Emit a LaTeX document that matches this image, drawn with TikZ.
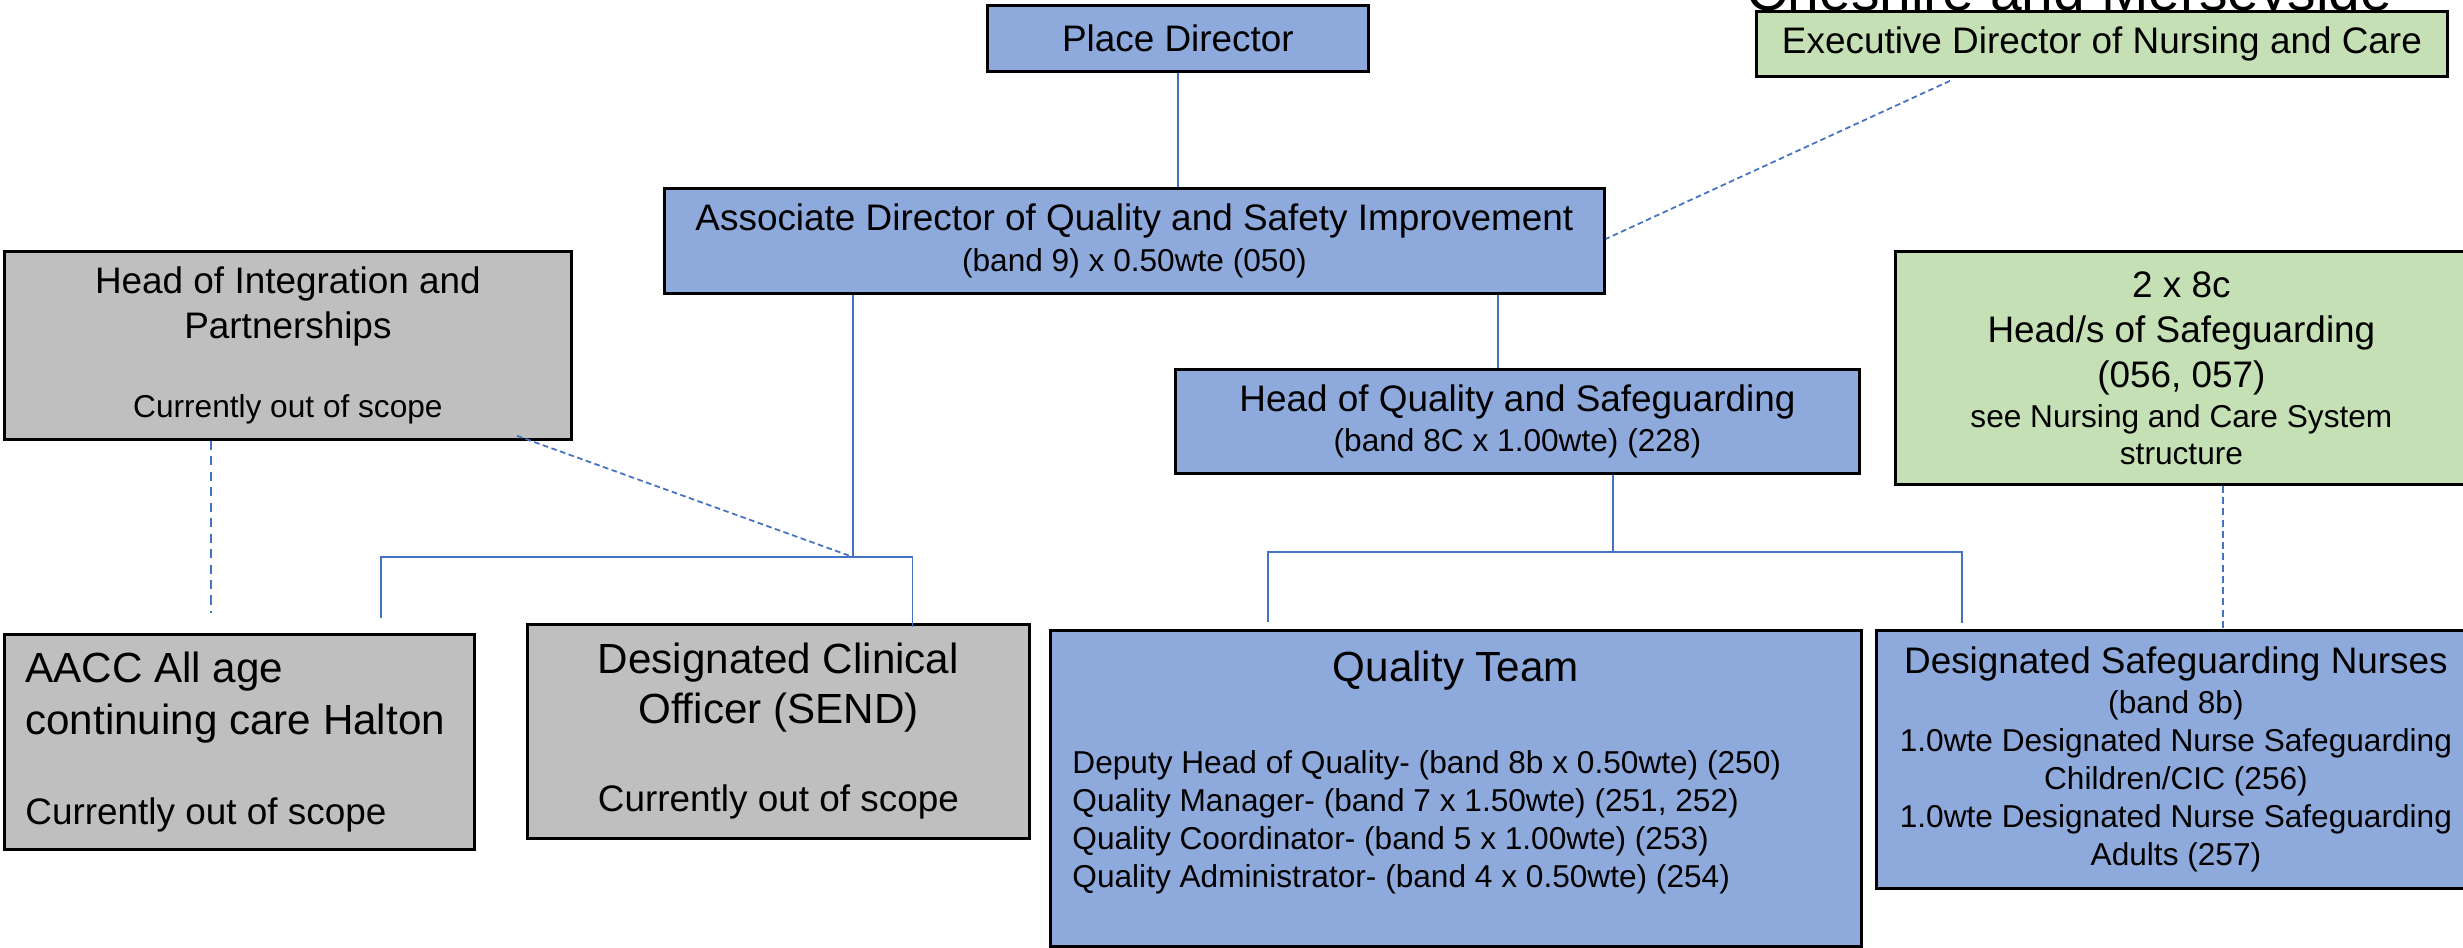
\documentclass[tikz,border=0pt]{standalone}
\usepackage{xcolor}
\usepackage{fontspec}
\setmainfont{Liberation Sans}
\usepackage{tikz}
\usetikzlibrary{positioning,calc}

\definecolor{boxblue}{RGB}{142,169,219}
\definecolor{boxgrey}{RGB}{191,191,191}
\definecolor{boxgreen}{RGB}{197,224,180}
\definecolor{linkblue}{RGB}{68,114,196}

\newcommand{\subtxt}{\fontsize{9}{10.8}\selectfont}
\newcommand{\bigtxt}{\fontsize{12}{14.8}\selectfont}

\begin{document}
\begin{tikzpicture}[
    orgbox/.style={rectangle, draw=black, line width=0.8pt, inner sep=0pt, anchor=north west, align=center, font=\fontsize{10.5}{12.8}\selectfont},
    bluebox/.style={orgbox, fill=boxblue},
    greybox/.style={orgbox, fill=boxgrey},
    greenbox/.style={orgbox, fill=boxgreen},
    link/.style={draw=linkblue, line width=0.5pt},
    dashlink/.style={link, dash pattern=on 1.6pt off 1pt}
]

\useasboundingbox (0,0) rectangle (24.63,-9.47);
\clip (0,0) rectangle (24.63,-9.47);

% heading cut off by the top edge
\node[anchor=base west, inner sep=0pt, font=\fontsize{16.2}{19}\selectfont] (region) at (17.46,-0.11) {Cheshire and Merseyside};

% top row
\node[bluebox, minimum width=3.81cm, minimum height=0.66cm] (place) at (9.86,-0.04) {Place Director};
\node[greenbox, minimum width=6.91cm, minimum height=0.65cm] (exec) at (17.55,-0.10) {Executive Director of Nursing and Care};

\node[bluebox, minimum width=9.40cm, minimum height=1.05cm, font=\fontsize{10.5}{11.4}\selectfont] (assoc) at (6.63,-1.87)
    {Associate Director of Quality and Safety Improvement\\{\subtxt (band 9) x 0.50wte (050)}};

% middle row
\node[greybox, minimum width=5.67cm, minimum height=1.88cm] (integ) at (0.03,-2.50)
    {Head of Integration and\\Partnerships\\[9.4pt]{\subtxt Currently out of scope}};
\node[greenbox, minimum width=5.72cm, minimum height=2.33cm] (heads) at (18.94,-2.50)
    {2 x 8c\\Head/s of Safeguarding\\(056, 057)\\[-1.4pt]{\subtxt see Nursing and Care System}\\[-2.3pt]{\subtxt structure}};
\node[bluebox, minimum width=6.84cm, minimum height=1.04cm, font=\fontsize{10.5}{11.4}\selectfont] (hoq) at (11.74,-3.68)
    {Head of Quality and Safeguarding\\{\subtxt (band 8C x 1.00wte) (228)}};

% bottom row
\node[greybox, minimum width=4.70cm, minimum height=2.15cm, text width=4.28cm, align=flush left, font=\bigtxt] (aacc) at (0.03,-6.33)
    {AACC All age\\continuing care Halton\\[10.8pt]{\fontsize{10.5}{12.8}\selectfont Currently out of scope}};
\node[greybox, minimum width=5.02cm, minimum height=2.14cm, font=\fontsize{12}{14.2}\selectfont] (dco) at (5.26,-6.23)
    {Designated Clinical\\Officer (SEND)\\[10.8pt]{\fontsize{10.5}{12.8}\selectfont Currently out of scope}};
\node[bluebox, minimum width=8.11cm, minimum height=3.16cm, text width=7.67cm, align=flush left, font=\subtxt] (qteam) at (10.49,-6.29)
    {{\centering\bigtxt Quality Team\par}\vskip 15.4pt
     Deputy Head of Quality- (band 8b x 0.50wte) (250)\\
     Quality Manager- (band 7 x 1.50wte) (251, 252)\\
     Quality Coordinator- (band 5 x 1.00wte) (253)\\
     Quality Administrator- (band 4 x 0.50wte) (254)\par\hbox{}};
\node[bluebox, minimum width=5.99cm, minimum height=2.58cm, font=\subtxt] (dsn) at (18.75,-6.29)
    {{\fontsize{10.5}{12}\selectfont Designated Safeguarding Nurses}\\[0.6pt](band 8b)\\1.0wte Designated Nurse Safeguarding\\Children/CIC (256)\\1.0wte Designated Nurse Safeguarding\\Adults (257)};

% junctions and line ends
\coordinate (j1) at (8.53,-5.57);
\coordinate (j2) at (16.13,-5.52);
\coordinate (aacc-in) at (3.81,-6.18);
\coordinate (aacc-dash) at (2.11,-6.13);
\coordinate (qteam-in) at (12.68,-6.22);
\coordinate (dsn-in) at (19.62,-6.23);

% solid reporting lines
\draw[link] (place.south) -- (place.south |- assoc.north);
\draw[link] ([xshift=3.24cm]hoq.north west) -- ([xshift=3.24cm]hoq.north west |- assoc.south);
\draw[link] (assoc.south -| j1) -- (j1);
\draw[link] (aacc-in) |- (j1) -| ([xshift=1.34cm,yshift=-0.04cm]dco.north);
\draw[link] (hoq.south -| j2) -- (j2);
\draw[link] (qteam-in) |- (j2) -| (dsn-in);

% dotted links
\draw[dashlink] ([xshift=1.95cm,yshift=-0.03cm]exec.south west) -- ([yshift=0.02cm]assoc.east);
\draw[dashlink] ([xshift=5.14cm,yshift=0.05cm]integ.south west) -- (j1);
\draw[dashlink, dash pattern=on 2.6pt off 1.8pt] (integ.south -| aacc-dash) -- (aacc-dash);
\draw[dashlink, dash pattern=on 2pt off 1.2pt] ([xshift=3.29cm]heads.south west) -- ([xshift=3.48cm]dsn.north west);

\end{tikzpicture}
\end{document}
